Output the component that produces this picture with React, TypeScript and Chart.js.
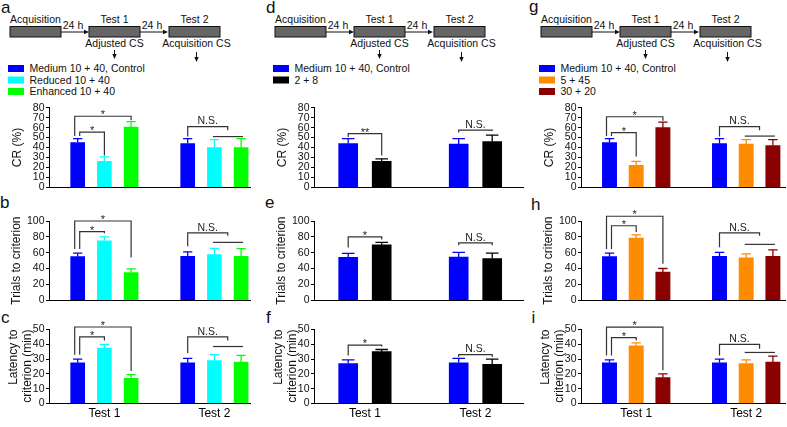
import React, { useEffect, useRef } from 'react';
import { Chart, registerables } from 'chart.js';

Chart.register(...registerables);

const FONT = 'Arial, "Liberation Sans", Helvetica, sans-serif';
Chart.defaults.font.family = FONT;
Chart.defaults.color = '#111';

// ---------------- data ----------------
const testLabels = ['Test 1', 'Test 2'];

const namesA = ['Medium 10 + 40, Control', 'Reduced 10 + 40', 'Enhanced 10 + 40'];
const colorsA = ['#0000ff', '#00ffff', '#00ff00'];
const namesD = ['Medium 10 + 40, Control', '2 + 8'];
const colorsD = ['#0000ff', '#000000'];
const namesG = ['Medium 10 + 40, Control', '5 + 45', '30 + 20'];
const colorsG = ['#0000ff', '#ff8c00', '#8b0000'];

// means [series][test], errors [series][test]
const crA = [[45, 44], [26, 40], [60.5, 40]];
const crAErr = [[4, 5], [4.5, 8], [5.5, 9]];
const trialsA = [[55, 55.5], [75, 57.5], [35, 55.5]];
const trialsAErr = [[4.5, 5.5], [5, 8], [4.5, 9.5]];
const latA = [[27.5, 27.5], [37.5, 29], [17, 28]];
const latAErr = [[2.5, 3], [2.5, 4], [2.5, 4.5]];

const crD = [[44, 43.5], [26, 46]];
const crDErr = [[5, 5.5], [2.5, 6.5]];
const trialsD = [[54, 54.5], [70, 52.5]];
const trialsDErr = [[5, 6], [3, 7]];
const latD = [[27, 27.5], [35, 26.5]];
const latDErr = [[2.5, 3], [1.5, 3.5]];

const crG = [[45, 44], [22, 43.5], [60, 42]];
const crGErr = [[4, 5], [4, 4.5], [5.5, 6]];
const trialsG = [[55, 55.5], [78.5, 53.5], [35.5, 55.5]];
const trialsGErr = [[4.5, 5], [4, 5], [4.5, 8]];
const latG = [[27.5, 27.5], [39, 27], [17.5, 28]];
const latGErr = [[2, 2.5], [2, 2.5], [2.5, 4]];

// significance brackets (values in axis units)
const sigCrA = [
  { t: 0, from: 0, to: 2, y: 71.5, yFrom: 51.5, yTo: 67.5, label: '*' },
  { t: 0, from: 0, to: 1, y: 55.5, yFrom: 51.5, yTo: 32, label: '*' },
  { t: 1, from: 0, to: 1.5, y: 61, yFrom: 51, yTo: 57.5, label: 'N.S.', join: 51 },
];
const sigTrialsA = [
  { t: 0, from: 0, to: 2, y: 100, yFrom: 64.5, yTo: 54, label: '*' },
  { t: 0, from: 0, to: 1, y: 86.5, yFrom: 64.5, yTo: 84.5, label: '*' },
  { t: 1, from: 0, to: 1.5, y: 85, yFrom: 68, yTo: 81.5, label: 'N.S.', join: 73 },
];
const sigLatA = [
  { t: 0, from: 0, to: 2, y: 51.7, yFrom: 33, yTo: 22, label: '*' },
  { t: 0, from: 0, to: 1, y: 45, yFrom: 33, yTo: 42.5, label: '*' },
  { t: 1, from: 0, to: 1.5, y: 45, yFrom: 34, yTo: 42.5, label: 'N.S.', join: 38.5 },
];
const sigCrD = [
  { t: 0, from: 0, to: 1, y: 54, yFrom: 50.5, yTo: 32, label: '**' },
  { t: 1, from: 0, to: 1, y: 57.5, yFrom: 55, yTo: 56.5, label: 'N.S.' },
];
const sigTrialsD = [
  { t: 0, from: 0, to: 1, y: 80, yFrom: 66.5, yTo: 76.5, label: '*' },
  { t: 1, from: 0, to: 1, y: 72.5, yFrom: 69.5, yTo: 69.5, label: 'N.S.' },
];
const sigLatD = [
  { t: 0, from: 0, to: 1, y: 39.5, yFrom: 32.5, yTo: 38.5, label: '*' },
  { t: 1, from: 0, to: 1, y: 33, yFrom: 31.5, yTo: 31.5, label: 'N.S.' },
];
const sigCrG = [
  { t: 0, from: 0, to: 2, y: 71, yFrom: 51.5, yTo: 67, label: '*' },
  { t: 0, from: 0, to: 1, y: 55, yFrom: 51.5, yTo: 31, label: '*' },
  { t: 1, from: 0, to: 1.5, y: 61, yFrom: 51, yTo: 57.5, label: 'N.S.', join: 51.5 },
];
const sigTrialsG = [
  { t: 0, from: 0, to: 2, y: 106, yFrom: 64.5, yTo: 46, label: '*' },
  { t: 0, from: 0, to: 1, y: 94, yFrom: 64.5, yTo: 86, label: '*' },
  { t: 1, from: 0, to: 1.5, y: 85, yFrom: 67, yTo: 81.5, label: 'N.S.', join: 70.5 },
];
const sigLatG = [
  { t: 0, from: 0, to: 2, y: 51.6, yFrom: 32.5, yTo: 22.5, label: '*' },
  { t: 0, from: 0, to: 1, y: 44.5, yFrom: 32.5, yTo: 42.5, label: '*' },
  { t: 1, from: 0, to: 1.5, y: 40, yFrom: 32.5, yTo: 37, label: 'N.S.', join: 34.5 },
];

// ---------------- layout ----------------
const YW = 49;
const COLS = [
  { left: 0, end: 251, first: 28.7, step: 26.7, group: 110, bar: 14 },
  { left: 265, end: 524, first: 34.2, step: 33.5, group: 110.5, bar: 19 },
  { left: 532, end: 786, first: 28.5, step: 26.7, group: 110, bar: 14.3 },
];
const ROWS = [
  { top: 100, height: 95, pad: 7.5, xH: 5.7, max: 80, stepSize: 10, title: 'CR (%)', titlePad: 11, align: 'center', showX: false },
  { top: 200, height: 108, pad: 21, xH: 5.7, max: 100, stepSize: 20, title: 'Trials to criterion', titlePad: 9.5, align: 'center', showX: false },
  { top: 312, height: 115, pad: 17.5, xH: 23.5, max: 50, stepSize: 10, title: ['Latency to', 'criterion (min)'], titlePad: 6.3, align: 'end', showX: true },
];

const PANELS = [
  { col: 0, row: 0, names: namesA, colors: colorsA, values: crA, errors: crAErr, sig: sigCrA },
  { col: 0, row: 1, names: namesA, colors: colorsA, values: trialsA, errors: trialsAErr, sig: sigTrialsA },
  { col: 0, row: 2, names: namesA, colors: colorsA, values: latA, errors: latAErr, sig: sigLatA },
  { col: 1, row: 0, names: namesD, colors: colorsD, values: crD, errors: crDErr, sig: sigCrD },
  { col: 1, row: 1, names: namesD, colors: colorsD, values: trialsD, errors: trialsDErr, sig: sigTrialsD },
  { col: 1, row: 2, names: namesD, colors: colorsD, values: latD, errors: latDErr, sig: sigLatD },
  { col: 2, row: 0, names: namesG, colors: colorsG, values: crG, errors: crGErr, sig: sigCrG },
  { col: 2, row: 1, names: namesG, colors: colorsG, values: trialsG, errors: trialsGErr, sig: sigTrialsG },
  { col: 2, row: 2, names: namesG, colors: colorsG, values: latG, errors: latGErr, sig: sigLatG },
];

const LETTERS = [
  { ch: 'a', x: 1, y: 12.7 }, { ch: 'b', x: 0, y: 207.5 }, { ch: 'c', x: 1, y: 323.3 },
  { ch: 'd', x: 266, y: 12.7 }, { ch: 'e', x: 265, y: 208 }, { ch: 'f', x: 266, y: 323.3 },
  { ch: 'g', x: 529, y: 12.3 }, { ch: 'h', x: 531, y: 209.5 }, { ch: 'i', x: 531.5, y: 323.3 },
];

const SCHEMES = [
  { ox: 0, names: namesA, colors: colorsA },
  { ox: 265, names: namesD, colors: colorsD },
  { ox: 531, names: namesG, colors: colorsG },
];

function makeMarks(p: any, G: number, barW: number) {
  return {
    id: 'marks',
    afterDatasetsDraw(chart: any) {
      const ctx = chart.ctx;
      const xs = chart.scales.x;
      const ys = chart.scales.y;
      ctx.save();
      ctx.lineWidth = 1.3;
      p.values.forEach((vals: number[], i: number) => {
        const meta = chart.getDatasetMeta(i);
        vals.forEach((v: number, t: number) => {
          const el = meta.data[t];
          const x = el.x;
          const yt = ys.getPixelForValue(v);
          const ye = ys.getPixelForValue(v + p.errors[i][t]);
          const cw = barW * 0.33;
          ctx.strokeStyle = p.colors[i];
          ctx.beginPath();
          ctx.moveTo(x, yt);
          ctx.lineTo(x, ye);
          ctx.moveTo(x - cw, ye);
          ctx.lineTo(x + cw, ye);
          ctx.stroke();
        });
      });
      const px = (t: number, pos: number) => xs.getPixelForValue(t * G + pos);
      ctx.strokeStyle = '#333';
      ctx.fillStyle = '#222';
      ctx.lineWidth = 1.2;
      ctx.textAlign = 'center';
      ctx.textBaseline = 'alphabetic';
      p.sig.forEach((b: any) => {
        const wide = b.to - b.from >= 2;
        const shared = p.sig.some((o: any) => o !== b && o.t === b.t && o.from === b.from && o.to - o.from >= 2);
        const x1 = px(b.t, b.from) + (wide ? -3 : shared ? 2 : 0);
        const x2 = px(b.t, b.to);
        const yl = ys.getPixelForValue(b.y);
        ctx.beginPath();
        ctx.moveTo(x1, ys.getPixelForValue(b.yFrom));
        ctx.lineTo(x1, yl);
        ctx.lineTo(x2, yl);
        ctx.lineTo(x2, ys.getPixelForValue(b.yTo));
        ctx.stroke();
        if (b.join != null) {
          const yj = ys.getPixelForValue(b.join);
          ctx.beginPath();
          ctx.moveTo(px(b.t, 1) - 1.5, yj);
          ctx.lineTo(px(b.t, 2) + 2, yj);
          ctx.stroke();
        }
        if (b.label.charAt(0) === '*') {
          ctx.font = `11px ${FONT}`;
          ctx.fillText(b.label, (x1 + x2) / 2, yl + 2);
        } else {
          ctx.font = `10.5px ${FONT}`;
          ctx.fillText(b.label, (x1 + x2) / 2, yl - 2.2);
        }
      });
      ctx.restore();
    },
  };
}

function Panel({ p }: any) {
  const ref = useRef<HTMLCanvasElement | null>(null);
  const c = COLS[p.col];
  const r = ROWS[p.row];
  const width = c.end - c.left;
  useEffect(() => {
    const G = c.group / c.step;
    const n = p.values.length;
    const centers = testLabels.map((_, t) => t * G + (n - 1) / 2);
    const xMin = -c.first / c.step;
    const xMax = (c.end - c.left - YW - c.first) / c.step;
    const chart = new Chart(ref.current as HTMLCanvasElement, {
      type: 'bar',
      data: {
        datasets: p.values.map((vals: number[], i: number) => ({
          label: p.names[i],
          data: vals.map((v, t) => ({ x: t * G + i, y: v })),
          backgroundColor: p.colors[i],
          borderWidth: 0,
          barThickness: c.bar,
          grouped: false,
        })),
      },
      options: {
        animation: false,
        responsive: false,
        devicePixelRatio: 1,
        layout: { padding: { top: r.pad, left: 0, right: 0, bottom: 0 } },
        plugins: { legend: { display: false }, tooltip: { enabled: false } },
        scales: {
          x: {
            type: 'linear',
            min: xMin,
            max: xMax,
            offset: false,
            grid: { display: false, drawTicks: false, offset: false },
            border: { display: true, color: '#000', width: 1 },
            afterBuildTicks: (s: any) => {
              s.ticks = centers.map((v) => ({ value: v }));
            },
            ticks: {
              display: r.showX,
              autoSkip: false,
              maxRotation: 0,
              minRotation: 0,
              padding: 3,
              color: '#000',
              font: { size: 12 },
              callback: (_v: any, i: number) => testLabels[i],
            },
            afterFit: (s: any) => {
              s.height = r.xH;
            },
          },
          y: {
            min: 0,
            max: r.max,
            ticks: { stepSize: r.stepSize, autoSkip: false, color: '#111', font: { size: 10.5 }, padding: 1.5 },
            grid: { display: true, drawOnChartArea: false, drawTicks: true, tickLength: 3, color: '#000' },
            border: { display: true, color: '#000', width: 1 },
            title: {
              display: true,
              text: r.title,
              color: '#111',
              align: r.align,
              font: { size: 12, lineHeight: 1.17 },
              padding: { top: r.titlePad, bottom: 0 },
            },
            afterFit: (s: any) => {
              s.width = YW;
            },
          },
        },
      } as any,
      plugins: [makeMarks(p, G, c.bar)],
    });
    return () => chart.destroy();
  }, []);
  return (
    <canvas
      ref={ref}
      width={width}
      height={r.height}
      style={{ position: 'absolute', left: c.left, top: r.top, width, height: r.height }}
    />
  );
}

function Scheme({ ox, names, colors }: any) {
  const boxes = [
    { x: 10, label: 'Acquisition' },
    { x: 89, label: 'Test 1' },
    { x: 169, label: 'Test 2' },
  ];
  const gaps = [61, 140];
  const downs = [
    { x: 114.5, text: 'Adjusted CS', y0: 50, y1: 59 },
    { x: 196.5, text: 'Acquisition CS', y0: 52, y1: 62 },
  ];
  const rowsY = [68.5, 80, 91.5];
  return (
    <g>
      {boxes.map((b, k) => (
        <g key={k}>
          <rect x={ox + b.x} y={26.5} width={51} height={10.5} fill="#666" stroke="#111" strokeWidth={1} />
          <text x={ox + b.x + 25.5} y={22.7} fontSize={10.5} textAnchor="middle" fill="#111">{b.label}</text>
        </g>
      ))}
      {gaps.map((g, k) => (
        <g key={k}>
          <line x1={ox + g} y1={32} x2={ox + g + 24} y2={32} stroke="#111" strokeWidth={1} />
          <polygon points={`${ox + g + 28},32 ${ox + g + 23},29.8 ${ox + g + 23},34.2`} fill="#111" />
          <text x={ox + g + 12} y={28.5} fontSize={10.5} textAnchor="middle" fill="#111">24 h</text>
        </g>
      ))}
      {downs.map((d, k) => (
        <g key={k}>
          <text x={ox + d.x} y={47.3} fontSize={10.5} textAnchor="middle" fill="#111">{d.text}</text>
          <line x1={ox + d.x} y1={d.y0} x2={ox + d.x} y2={d.y1 - 4} stroke="#111" strokeWidth={1} />
          <polygon points={`${ox + d.x},${d.y1} ${ox + d.x - 2.2},${d.y1 - 5} ${ox + d.x + 2.2},${d.y1 - 5}`} fill="#111" />
        </g>
      ))}
      {names.map((n: string, k: number) => (
        <g key={k}>
          <rect x={ox + 8} y={rowsY[k] - 3.5} width={16} height={7} fill={colors[k]} />
          <text x={ox + 29.5} y={rowsY[k] + 3.8} fontSize={10.5} fill="#111">{n}</text>
        </g>
      ))}
    </g>
  );
}

export default function App() {
  return (
    <div
      style={{
        position: 'fixed',
        left: 0,
        top: 0,
        width: 787,
        height: 427,
        background: '#fff',
        overflow: 'hidden',
        fontFamily: FONT,
      }}
    >
      <svg width={787} height={427} style={{ position: 'absolute', left: 0, top: 0 }} fontFamily={FONT}>
        {SCHEMES.map((s, k) => (
          <Scheme key={k} {...s} />
        ))}
        {LETTERS.map((l, k) => (
          <text key={k} x={l.x} y={l.y} fontSize={17} fill="#111">{l.ch}</text>
        ))}
      </svg>
      {PANELS.map((p, k) => (
        <Panel key={k} p={p} />
      ))}
    </div>
  );
}
